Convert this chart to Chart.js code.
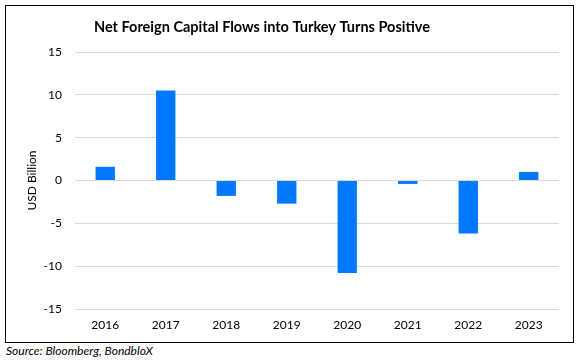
<!DOCTYPE html>
<html>
<head>
<meta charset="utf-8">
<script src="https://cdn.jsdelivr.net/npm/chart.js@4.4.0/dist/chart.umd.min.js"></script>
<style>
  html, body { margin: 0; padding: 0; background: #fff; }
  body { width: 579px; height: 363px; position: relative; overflow: hidden; }
  #box { position: absolute; left: 5px; top: 5px; width: 569px; height: 338px; border: 1px solid #000; box-sizing: border-box; }
  #c { display: block; }
  #src { position: absolute; left: 6px; top: 343px; font-family: Lato, "Open Sans", sans-serif; font-style: italic; font-size: 12px; color: #000; }
</style>
</head>
<body>
<div id="box"><canvas id="c" width="567" height="336"></canvas></div>
<div id="src">Source: Bloomberg, BondbloX</div>
<script>
const categories = ["2016", "2017", "2018", "2019", "2020", "2021", "2022", "2023"];
const flows = [1.6, 10.5, -1.8, -2.7, -10.8, -0.4, -6.2, 1.0];
const yTicks = [-15, -10, -5, 0, 5, 10, 15];
const chartTitle = 'Net Foreign Capital Flows into Turkey Turns Positive';

const FONT = 'Lato, "Open Sans", sans-serif';

const titlePlugin = {
  id: 'offsetTitle',
  afterDraw(chart) {
    const ctx = chart.ctx;
    ctx.save();
    ctx.font = 'bold 14.5px ' + FONT;
    ctx.fillStyle = '#000';
    ctx.textAlign = 'center';
    ctx.textBaseline = 'middle';
    ctx.fillText(chartTitle, 256, 21);
    ctx.restore();
  }
};

new Chart(document.getElementById('c'), {
  type: 'bar',
  data: {
    labels: categories,
    datasets: [{
      label: 'Net Foreign Capital Flows',
      data: flows,
      backgroundColor: '#0078FF',
      borderWidth: 0,
      categoryPercentage: 1.0,
      barPercentage: 0.32
    }]
  },
  plugins: [titlePlugin],
  options: {
    responsive: false,
    animation: false,
    devicePixelRatio: 1,
    layout: { padding: { left: 0, right: 14, top: 46, bottom: 0 } },
    plugins: {
      legend: { display: false },
      tooltip: { enabled: false },
      title: { display: false }
    },
    scales: {
      x: {
        grid: { display: false, drawTicks: false },
        border: { display: false },
        ticks: { color: '#000', font: { family: FONT, size: 12 }, padding: 9, maxRotation: 0 },
        afterFit(scale) { scale.height = 33; }
      },
      y: {
        min: -15,
        max: 15,
        afterBuildTicks(scale) { scale.ticks = yTicks.map(v => ({ value: v })); },
        grid: { color: '#d9d9d9', lineWidth: 1, drawTicks: false },
        border: { display: false },
        ticks: { color: '#000', font: { family: FONT, size: 12 }, padding: 13 },
        title: {
          display: true,
          text: 'USD Billion',
          color: '#000',
          font: { family: FONT, size: 12 },
          padding: { top: 19, bottom: 0 }
        },
        afterFit(scale) { scale.width = 69; }
      }
    }
  }
});
</script>
</body>
</html>
